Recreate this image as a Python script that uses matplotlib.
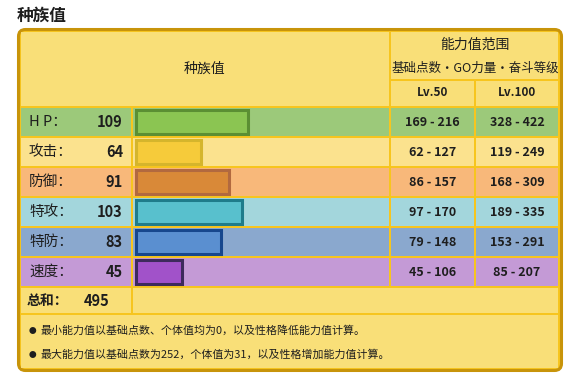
import matplotlib
matplotlib.use("Agg")
import matplotlib.pyplot as plt
from matplotlib.patches import Rectangle, FancyBboxPatch

plt.rcParams['font.family'] = ['Noto Sans CJK SC', 'DejaVu Sans']

# datos de la tabla
stat_names = ["H P：", "攻击：", "防御：", "特攻：", "特防：", "速度："]
base_stats = [109, 64, 91, 103, 83, 45]
lv50_min = [169, 62, 86, 97, 79, 45]
lv50_max = [216, 127, 157, 170, 148, 106]
lv100_min = [328, 119, 168, 189, 153, 85]
lv100_max = [422, 249, 309, 335, 291, 207]
notes = ["最小能力值以基础点数、个体值均为0，以及性格降低能力值计算。",
         "最大能力值以基础点数为252，个体值为31，以及性格增加能力值计算。"]

row_bg = ["#9CC97A", "#FBE28E", "#F8B87A", "#A3D6DC", "#8AA8CE", "#C49AD6"]
bar_fill = ["#8BC552", "#F6CB3A", "#D98938", "#58C0CD", "#5A8FD0", "#A152C9"]
bar_edge = ["#5B8F33", "#D5B52C", "#B2693F", "#1F7C8B", "#17478D", "#3D2A5C"]

yellow = "#F9DF78"
line = "#F7C51E"
dark = "#C8940A"
ink = "#1E1E1E"

fig = plt.figure(figsize=(5.86, 3.86), dpi=100)
ax = fig.add_axes([0, 0, 1, 1])
ax.set_xlim(0, 586)
ax.set_ylim(386, 0)
ax.axis("off")

ax.text(17, 16, "种族值", fontsize=12, fontweight="bold", color=ink, va="center")

# caja exterior
box = FancyBboxPatch((18.5, 29.5), 543, 341, boxstyle="round,pad=0,rounding_size=7",
                     facecolor=line, edgecolor=dark, linewidth=2.2)
ax.add_patch(box)

def cell(x0, y0, x1, y1, color):
    ax.add_patch(Rectangle((x0, y0), x1 - x0, y1 - y0, facecolor=color, edgecolor="none"))

# encabezado
cell(21, 32, 389, 106, yellow)
cell(391, 32, 558, 79, yellow)
cell(391, 81, 474, 106, yellow)
cell(476, 81, 558, 106, yellow)
ax.text(205, 69, "种族值", fontsize=10, ha="center", va="center", color=ink)
ax.text(475, 45, "能力值范围", fontsize=10, ha="center", va="center", color=ink)
ax.text(475, 68, "基础点数・GO力量・奋斗等级", fontsize=9, ha="center", va="center", color=ink)
ax.text(432.5, 93, "Lv.50", fontsize=8.5, fontweight="bold", ha="center", va="center", color=ink)
ax.text(517, 93, "Lv.100", fontsize=8.5, fontweight="bold", ha="center", va="center", color=ink)

# filas
row_top = 108
row_h = 28
centers = []
for i in range(len(stat_names)):
    y0 = row_top + i * (row_h + 2)
    y1 = y0 + row_h
    c = row_bg[i]
    cell(21, y0, 131, y1, c)
    cell(133, y0, 389, y1, c)
    cell(391, y0, 474, y1, c)
    cell(476, y0, 558, y1, c)
    yc = (y0 + y1) / 2
    centers.append(yc)
    ax.text(29, yc, stat_names[i], fontsize=10.5, ha="left", va="center", color=ink)
    ax.text(123, yc, str(base_stats[i]), fontsize=10.5, fontweight="bold",
            ha="right", va="center", color=ink)
    ax.text(432.5, yc, f"{lv50_min[i]} - {lv50_max[i]}", fontsize=9, fontweight="bold",
            ha="center", va="center", color=ink)
    ax.text(517, yc, f"{lv100_min[i]} - {lv100_max[i]}", fontsize=9, fontweight="bold",
            ha="center", va="center", color=ink)

scale = 1.03
ax.barh(centers, [v * scale for v in base_stats], left=135.5, height=24,
        color=bar_fill, edgecolor=bar_edge, linewidth=2.2, zorder=3)

# total
ty0 = row_top + 6 * (row_h + 2)
ty1 = ty0 + 25
cell(21, ty0, 131, ty1, yellow)
cell(133, ty0, 558, ty1, yellow)
ax.text(27, (ty0 + ty1) / 2, "总和：", fontsize=10, fontweight="bold", ha="left", va="center", color=ink)
ax.text(110, (ty0 + ty1) / 2, str(sum(base_stats)), fontsize=10.5, fontweight="bold",
        ha="right", va="center", color=ink)

# notas
cell(21, ty1 + 2, 558, 368, yellow)
for k, n in enumerate(notes):
    yy = 331 + k * 24
    ax.text(32, yy, "●", fontsize=5.5, ha="center", va="center", color=ink)
    ax.text(41, yy, n, fontsize=7.9, ha="left", va="center", color=ink)

plt.savefig("out.png", dpi=100)
